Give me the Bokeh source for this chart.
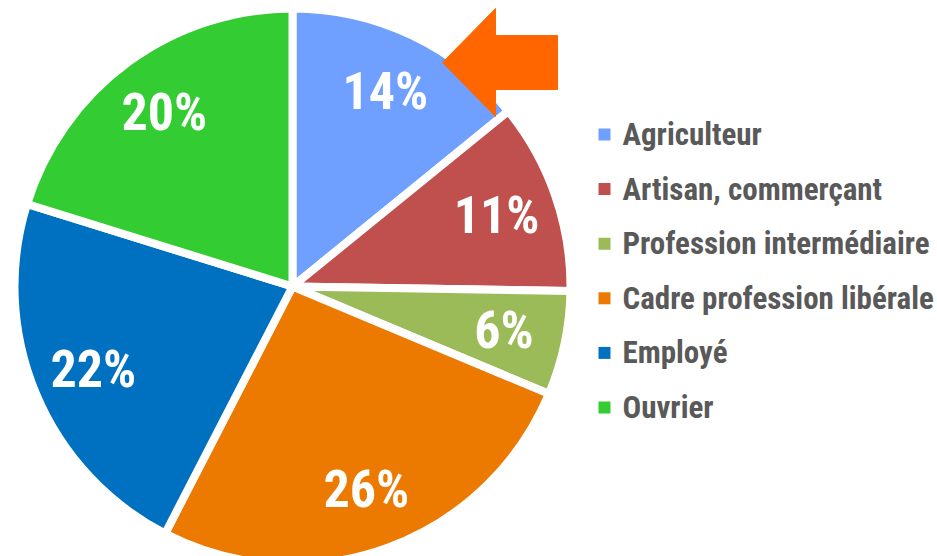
import math
from bokeh.plotting import figure
from bokeh.models import ColumnDataSource, Range1d
from bokeh.core.properties import value
from bokeh.embed import file_html
from bokeh.resources import INLINE

# Répartition par catégorie socioprofessionnelle (%)
categories = ["Agriculteur", "Artisan, commerçant", "Profession intermédiaire",
              "Cadre profession libérale", "Employé", "Ouvrier"]
shares = [14, 11, 6, 26, 22, 20]
colors = ["#6FA0FF", "#C0504D", "#9BBB59", "#ED7A00", "#0070C0", "#33CC33"]

W, H = 937, 556
CX, CY = 292, H - 286       # pie centre (data units = pixels, y up)
R = 278                     # outer radius incl. white separator
LABEL_R = 216               # radius where the percentages sit
FONT = "'Roboto Condensed', 'Arial Narrow', 'Liberation Sans Narrow', Roboto, sans-serif"

p = figure(width=W, height=H, output_backend="svg", toolbar_location=None,
           x_range=Range1d(0, W), y_range=Range1d(0, H), min_border=0)
p.axis.visible = False
p.grid.visible = False
p.outline_line_color = None
p.background_fill_color = "white"

total = float(sum(shares))
starts, ends, lx, ly, texts = [], [], [], [], []
cum = 0.0
for s in shares:
    c0 = cum / total
    cum += s
    c1 = cum / total
    # clockwise from 12 o'clock
    starts.append(math.pi / 2 - 2 * math.pi * c1)
    ends.append(math.pi / 2 - 2 * math.pi * c0)
    mid = math.pi / 2 - 2 * math.pi * (c0 + c1) / 2
    lx.append(CX + LABEL_R * math.cos(mid))
    ly.append(CY + LABEL_R * math.sin(mid))
    texts.append(f"{s}%")

src = ColumnDataSource(dict(start=starts, end=ends, color=colors,
                            lx=lx, ly=ly, txt=texts))

p.wedge(x=CX, y=CY, radius=R, start_angle="start", end_angle="end",
        fill_color="color", line_color="white", line_width=8, source=src)

p.text(x="lx", y="ly", text="txt", source=src, text_color="white",
       text_font=value(FONT), text_font_style="bold", text_font_size="52px",
       text_align="center", text_baseline="middle")

# Arrow pointing at the first slice
tip_x, tip_y = 442, H - 62
head_len, head_half = 53, 54
shaft_len, shaft_half = 62, 27
ax = [tip_x, tip_x + head_len, tip_x + head_len, tip_x + head_len + shaft_len,
      tip_x + head_len + shaft_len, tip_x + head_len, tip_x + head_len]
ay = [tip_y, tip_y + head_half, tip_y + shaft_half, tip_y + shaft_half,
      tip_y - shaft_half, tip_y - shaft_half, tip_y - head_half]
p.patch(ax, ay, fill_color="#FF6600", line_color="#FF6600", line_width=1)

# Legend
leg_x, leg_y0, leg_dy = 604, H - 134, 54.6
lg = ColumnDataSource(dict(
    x=[leg_x] * len(categories),
    y=[leg_y0 - i * leg_dy for i in range(len(categories))],
    tx=[leg_x + 18] * len(categories),
    name=categories, color=colors))
p.rect(x="x", y="y", width=12, height=12, fill_color="color",
       line_color=None, source=lg)
p.text(x="tx", y="y", text="name", source=lg, text_color="#595959",
       text_font=value(FONT), text_font_style="bold", text_font_size="31px",
       text_align="left", text_baseline="middle")

open("out.html", "w").write(file_html(p, INLINE))
